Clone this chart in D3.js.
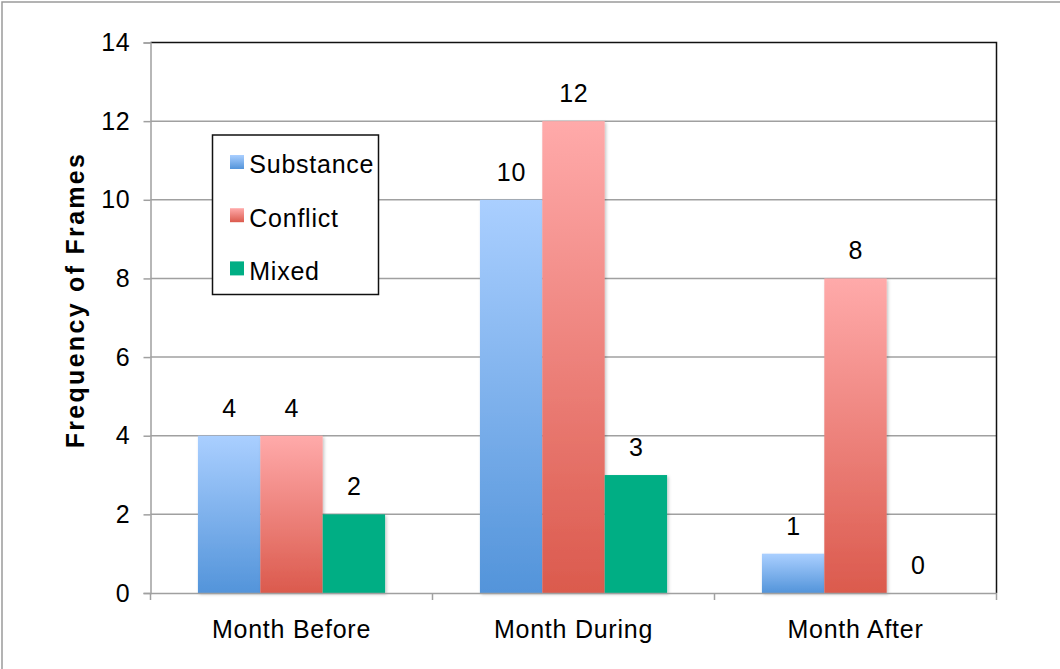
<!DOCTYPE html>
<html>
<head>
<meta charset="utf-8">
<script src="https://cdn.jsdelivr.net/npm/d3@7"></script>
<style>
  html, body { margin: 0; padding: 0; background: #fff; }
  svg { display: block; font-family: "Liberation Sans", Arial, sans-serif; }
</style>
</head>
<body>
<svg id="chart" width="1060" height="669"></svg>
<script>
// Frame counts per period
const categories = ["Month Before", "Month During", "Month After"];
const seriesNames = ["Substance", "Conflict", "Mixed"];
const substance = [4, 10, 1];
const conflict = [4, 12, 8];
const mixed = [2, 3, 0];
const yTicks = [0, 2, 4, 6, 8, 10, 12, 14];

const seriesValues = [substance, conflict, mixed];

const FONT = "'Liberation Sans', Arial, sans-serif";
const FS = 25, LS = 0.75;

const svg = d3.select("#chart");
const margin = { left: 150.5, right: 63.5, top: 42.5, bottom: 76 };
const W = 1060, H = 669;
const x0 = margin.left, x1 = W - margin.right;
const yTop = margin.top, yBot = H - margin.bottom;

// Outer chart frame (top and left edges)
svg.append("path")
  .attr("d", `M2,669 V2 H1060`)
  .attr("fill", "none").attr("stroke", "#9a9a9a").attr("stroke-width", 1.5);

const defs = svg.append("defs");
function vGrad(id, top, bottom) {
  const g = defs.append("linearGradient").attr("id", id)
    .attr("x1", 0).attr("y1", 0).attr("x2", 0).attr("y2", 1);
  g.append("stop").attr("offset", "0%").attr("stop-color", top);
  g.append("stop").attr("offset", "100%").attr("stop-color", bottom);
}
vGrad("gSub", "#aacfff", "#5394da");
vGrad("gCon", "#ffaaaa", "#db5a4d");
vGrad("gMix", "#00ae84", "#00ae84");
const fills = ["url(#gSub)", "url(#gCon)", "url(#gMix)"];

const shadow = defs.append("filter").attr("id", "shadow")
  .attr("x", "-10%").attr("y", "-10%").attr("width", "130%").attr("height", "130%");
shadow.append("feDropShadow").attr("dx", 1.5).attr("dy", 1.5)
  .attr("stdDeviation", 1.5).attr("flood-color", "#000").attr("flood-opacity", 0.22);

const x = d3.scaleBand().domain(categories).range([x0, x1]).paddingInner(0).paddingOuter(0);
const xs = d3.scaleBand().domain(seriesNames)
  .range([0, x.bandwidth()]).paddingInner(0).paddingOuter(0.76);
const y = d3.scaleLinear().domain([0, 14]).range([yBot, yTop]);

// Horizontal gridlines
svg.append("g").selectAll("line").data(yTicks.filter(t => t > 0 && t < 14)).join("line")
  .attr("x1", x0).attr("x2", x1)
  .attr("y1", d => y(d)).attr("y2", d => y(d))
  .attr("stroke", "#a0a0a0").attr("stroke-width", 1.5);

// Plot frame top and right
svg.append("path")
  .attr("d", `M${x0},${yTop} H${x1} V${yBot}`)
  .attr("fill", "none").attr("stroke", "#111").attr("stroke-width", 1.5);

// Bars with value labels
const groups = svg.append("g").selectAll("g").data(categories).join("g")
  .attr("transform", d => `translate(${x(d)},0)`);
groups.each(function(cat, ci) {
  const g = d3.select(this);
  seriesNames.forEach((s, si) => {
    const v = seriesValues[si][ci];
    if (v > 0) {
      g.append("rect")
        .attr("x", xs(s)).attr("width", xs.bandwidth())
        .attr("y", y(v)).attr("height", y(0) - y(v))
        .attr("fill", fills[si]).attr("filter", "url(#shadow)");
    }
    g.append("text")
      .attr("x", xs(s) + xs.bandwidth() / 2 + LS / 2)
      .attr("y", y(v) - 19)
      .attr("text-anchor", "middle")
      .attr("font-size", FS).attr("letter-spacing", LS).attr("fill", "#000")
      .text(v);
  });
});

// Y axis
const yAxis = d3.axisLeft(y).tickValues(yTicks).tickSize(7).tickPadding(13).tickFormat(d3.format("d"));
const gy = svg.append("g").attr("transform", `translate(${x0},0)`).call(yAxis);
gy.attr("font-family", FONT).attr("font-size", FS);
gy.select(".domain").attr("stroke", "#a0a0a0").attr("stroke-width", 1.5);
gy.selectAll(".tick line").attr("stroke", "#a0a0a0").attr("stroke-width", 1.5);
gy.selectAll(".tick text").attr("fill", "#000").attr("letter-spacing", LS);

// X axis
const xAxis = d3.axisBottom(x).tickSize(0).tickPadding(0);
const gx = svg.append("g").attr("transform", `translate(0,${yBot})`).call(xAxis);
gx.attr("font-family", FONT).attr("font-size", FS);
gx.select(".domain").attr("stroke", "#a0a0a0").attr("stroke-width", 1.5);
gx.selectAll(".tick text").attr("fill", "#000").attr("letter-spacing", LS)
  .attr("dy", 0).attr("y", 45);
// Category boundary ticks
const bounds = categories.map(c => x(c)).concat([x1]);
svg.append("g").selectAll("line").data(bounds).join("line")
  .attr("x1", d => d).attr("x2", d => d)
  .attr("y1", yBot).attr("y2", yBot + 7)
  .attr("stroke", "#a0a0a0").attr("stroke-width", 1.5);

// Y axis title
svg.append("text")
  .attr("transform", `translate(84,300) rotate(-90)`)
  .attr("text-anchor", "middle")
  .attr("font-size", FS).attr("font-weight", "bold").attr("letter-spacing", 2.3).attr("fill", "#000")
  .text("Frequency of Frames");

// Legend
const legend = svg.append("g").attr("transform", "translate(212.5,135)");
legend.append("rect").attr("width", 166).attr("height", 159.5)
  .attr("fill", "#fff").attr("stroke", "#111").attr("stroke-width", 1.5);
seriesNames.forEach((s, i) => {
  const top = 20 + i * 53.2;
  legend.append("rect").attr("x", 17.5).attr("y", top).attr("width", 14).attr("height", 14)
    .attr("fill", fills[i]);
  legend.append("text").attr("x", 36.8).attr("y", top + 18.3)
    .attr("font-size", FS).attr("letter-spacing", LS).attr("fill", "#000").text(s);
});
</script>
</body>
</html>
